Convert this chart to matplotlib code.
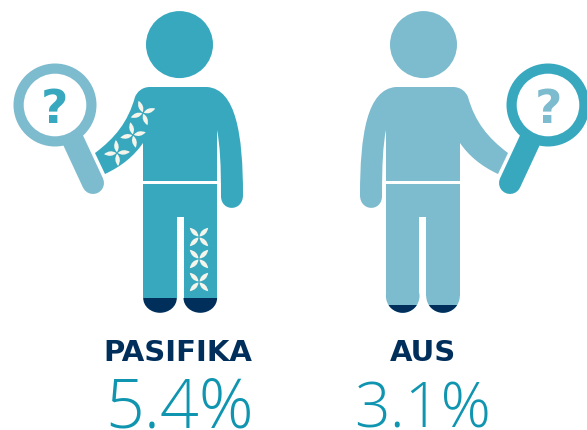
import matplotlib
matplotlib.use("Agg")
import matplotlib.pyplot as plt
from matplotlib.path import Path
from matplotlib.patches import PathPatch, Circle, Ellipse, Rectangle
from matplotlib.transforms import Affine2D
import numpy as np

categories = ["PASIFIKA", "AUS"]
values = [5.4, 3.1]
label_x = [178, 423]
value_x = [179.5, 423]
value_sizes = [49, 45]
body_colors = ["#38a8bf", "#7dbbce"]
lens_colors = ["#7dbbce", "#38a8bf"]
NAVY = "#012f5b"
NUM = "#0f95b0"
PETAL = "#f6f5ec"

fig = plt.figure(figsize=(5.87, 4.30), dpi=100)
ax = fig.add_axes([0, 0, 1, 1])
ax.set_xlim(0, 587); ax.set_ylim(430, 0); ax.axis("off")

M, L, C, Z = Path.MOVETO, Path.LINETO, Path.CURVE4, Path.CLOSEPOLY

def draw_path(segs, color, mirror, z=2):
    verts, codes = [], []
    for s in segs:
        if s[0] == "M": verts.append(s[1]); codes.append(M)
        elif s[0] == "L": verts.append(s[1]); codes.append(L)
        elif s[0] == "C": verts += list(s[1:]); codes += [C, C, C]
    verts.append(verts[0]); codes.append(Z)
    v = np.array(verts, float)
    if mirror: v[:, 0] = 603 - v[:, 0]
    ax.add_patch(PathPatch(Path(v, codes), fc=color, ec="none", zorder=z))

def petal_group(cx, cy, angle, length=13, width=3.0):
    for k in range(4):
        a = angle + k * 90
        base = Path([(0.8, 0), (length * .35, -width), (length * .65, -width), (length, 0),
                     (length * .65, width), (length * .35, width), (0.8, 0)],
                    [M, C, C, C, C, C, C])
        t = Affine2D().rotate_deg(a).translate(cx, cy)
        ax.add_patch(PathPatch(t.transform_path(base), fc=PETAL, ec="none", zorder=5))

for i, name in enumerate(categories):
    c = body_colors[i]; lc = lens_colors[i]; mir = i == 1
    X = (lambda x: 603 - x) if mir else (lambda x: x)
    ax.add_patch(Circle((X(179.5), 44.6), 33.5, fc=c, ec="none", zorder=2))
    draw_path([("M", (143, 181)), ("L", (143, 120)), ("L", (135, 97)),
               ("C", (137, 92), (142, 87), (150, 87)), ("L", (207, 87)),
               ("C", (236, 89), (243, 135), (243, 195)),
               ("C", (243, 212), (221, 212), (221, 196)),
               ("C", (221, 165), (220, 145), (217, 130)), ("L", (217, 181))], c, mir)
    draw_path([("M", (135, 97)), ("C", (128, 122), (115, 138), (95, 153)),
               ("L", (105, 174)), ("C", (122, 166), (134, 156), (143, 143)), ("L", (150, 100))], c, mir)
    bottom = 296 if mir else 298
    draw_path([("M", (143, 184)), ("L", (217, 184)), ("L", (217, bottom)),
               ("L", (184, bottom)), ("L", (184, 217)), ("L", (177, 217)),
               ("L", (177, bottom)), ("L", (143, bottom))], c, mir)
    for fx in (160, 200.3):
        if not mir:
            e = Ellipse((fx, 298), 33.6, 29.6, fc=NAVY, ec="none", zorder=3)
            ax.add_patch(e)
            e.set_clip_path(Rectangle((fx - 20, 298), 40, 20, transform=ax.transData))
        else:
            ax.add_patch(Ellipse((X(fx), 296), 33.6, 33.6, fc=c, ec="none", zorder=2))
            e = Ellipse((X(fx), 296), 33.6, 33.6, fc=NAVY, ec="none", zorder=3)
            ax.add_patch(e)
            e.set_clip_path(Rectangle((X(fx) - 20, 304.5), 40, 20, transform=ax.transData))
    hx = [X(73), X(93)]; hy = [140, 183]
    ax.plot(hx, hy, color="white", lw=27 * .72, solid_capstyle="round", zorder=6)
    ax.plot(hx, hy, color=lc, lw=22 * .72, solid_capstyle="round", zorder=7)
    ax.add_patch(Circle((X(55), 105), 41.5, fc=lc, ec="none", zorder=8))
    ax.add_patch(Circle((X(55), 105), 31.3, fc="white", ec="none", zorder=9))
    ax.text(X(54.5), 123, "?", color=c, fontsize=34, family="DejaVu Sans", fontweight="bold",
            ha="center", va="baseline", zorder=10)
    ax.text(label_x[i], 361, name, color=NAVY, fontsize=21, family="DejaVu Sans", fontweight="bold",
            ha="center", va="baseline", zorder=10)
    ax.text(value_x[i], 428, f"{values[i]}%", color=NUM, fontsize=value_sizes[i], family="Open Sans",
            fontweight="light", ha="center", va="baseline", zorder=10)

for cx, cy, a in [(143, 113, -20), (133, 135, -12), (117, 153, -5)]:
    petal_group(cx, cy, a)
for cy in [237, 259, 282]:
    petal_group(199, cy, 45)

fig.savefig("out.png", dpi=100)
